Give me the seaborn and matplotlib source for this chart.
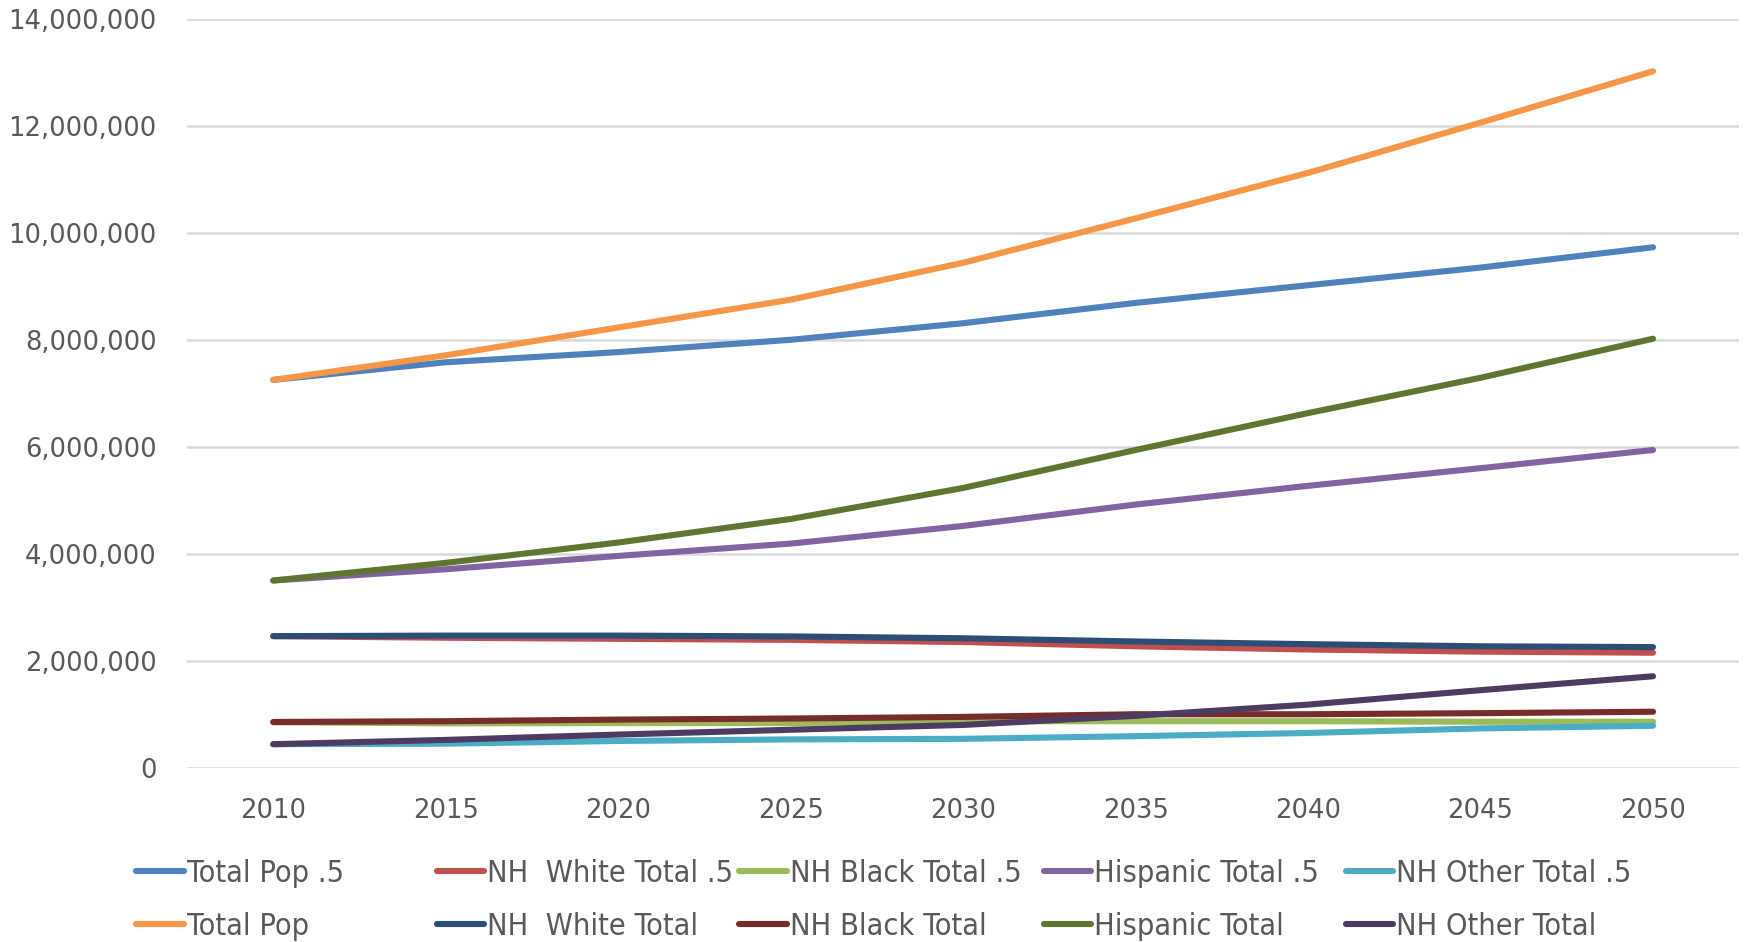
import numpy as np
import pandas as pd
import seaborn as sns
import matplotlib.pyplot as plt
from matplotlib.lines import Line2D
from matplotlib.ticker import FuncFormatter

years = [2010, 2015, 2020, 2025, 2030, 2035, 2040, 2045, 2050]

# half-rate scenario (".5")
total_pop_5 = [7.25, 7.58, 7.77, 8.00, 8.31, 8.69, 9.02, 9.35, 9.73]
nh_white_5 = [2.46, 2.43, 2.41, 2.39, 2.35, 2.27, 2.21, 2.17, 2.15]
nh_black_5 = [0.85, 0.83, 0.835, 0.835, 0.87, 0.87, 0.87, 0.86, 0.86]
hispanic_5 = [3.50, 3.71, 3.96, 4.19, 4.52, 4.92, 5.27, 5.60, 5.94]
nh_other_5 = [0.44, 0.45, 0.50, 0.53, 0.54, 0.59, 0.65, 0.735, 0.785]

# full scenario
total_pop = [7.25, 7.71, 8.23, 8.75, 9.44, 10.27, 11.12, 12.06, 13.02]
nh_white = [2.46, 2.47, 2.47, 2.455, 2.42, 2.36, 2.31, 2.27, 2.255]
nh_black = [0.855, 0.87, 0.90, 0.92, 0.95, 1.00, 1.00, 1.02, 1.047]
hispanic = [3.50, 3.83, 4.21, 4.65, 5.23, 5.94, 6.63, 7.29, 8.02]
nh_other = [0.44, 0.52, 0.62, 0.71, 0.80, 0.97, 1.18, 1.45, 1.71]

series = {
    "Total Pop .5": (total_pop_5, "#4F81BD"),
    "NH  White Total .5": (nh_white_5, "#C0504D"),
    "NH Black Total .5": (nh_black_5, "#9BBB59"),
    "Hispanic Total .5": (hispanic_5, "#8064A2"),
    "NH Other Total .5": (nh_other_5, "#4BACC6"),
    "Total Pop": (total_pop, "#F79646"),
    "NH  White Total": (nh_white, "#2C4D75"),
    "NH Black Total": (nh_black, "#772C2A"),
    "Hispanic Total": (hispanic, "#5F7530"),
    "NH Other Total": (nh_other, "#4D3B62"),
}

rows = []
for name, (vals, col) in series.items():
    for y, v in zip(years, vals):
        rows.append({"Year": y, "Population": v * 1e6, "Series": name})
df = pd.DataFrame(rows)
palette = {name: col for name, (vals, col) in series.items()}

sns.set_style("white")
plt.rcParams['font.family'] = ['DejaVu Sans']

fig = plt.figure(figsize=(17.48, 9.42), dpi=100)
ax = fig.add_axes([0.107, 0.185, 0.888, 0.795])

lw = 4.4
sns.lineplot(data=df, x="Year", y="Population", hue="Series", palette=palette,
             hue_order=list(series.keys()), linewidth=lw, legend=False, ax=ax,
             solid_capstyle="round")

ax.set_xlim(2007.5, 2052.5)
ax.set_ylim(0, 14e6)
ax.set_xticks(years)
ax.set_yticks(np.arange(0, 14e6 + 1, 2e6))
ax.yaxis.set_major_formatter(FuncFormatter(lambda v, p: f"{v:,.0f}"))
ax.grid(axis="y", color="#D9D9D9", linewidth=1.8)
ax.set_axisbelow(True)
for s in ax.spines.values():
    s.set_visible(False)
ax.tick_params(axis="both", length=0, labelsize=18.6, labelcolor="#595959")
ax.tick_params(axis="y", pad=22)
ax.tick_params(axis="x", pad=22)
ax.set_xlabel("")
ax.set_ylabel("")

# legend: 5 equal-width columns, 2 rows
names = list(series.keys())
col_x = [0.078, 0.250, 0.423, 0.597, 0.770]
for i in range(5):
    handles = []
    for name in (names[i], names[i + 5]):
        handles.append(Line2D([0], [0], color=palette[name], linewidth=lw,
                              solid_capstyle="round", label=name))
    fig.legend(handles=handles, loc="upper left", bbox_to_anchor=(col_x[i], 0.088),
               frameon=False, handlelength=1.55, handletextpad=0.1,
               labelspacing=0.78, borderpad=0, borderaxespad=0,
               prop={"family": "DejaVu Sans", "stretch": "condensed", "size": 22},
               labelcolor="#595959")

fig.savefig("out.png", dpi=100)
